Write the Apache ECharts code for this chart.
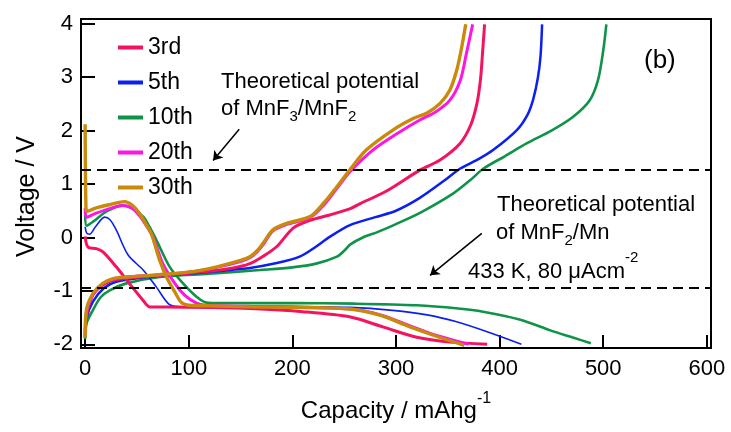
<!DOCTYPE html>
<html>
<head>
<meta charset="utf-8">
<script src="https://cdn.jsdelivr.net/npm/echarts@6/dist/echarts.min.js"></script>
<style>
  html, body { margin: 0; padding: 0; background: #fff; }
  #chart { width: 731px; height: 432px; }
</style>
</head>
<body>
<div id="chart"></div>
<script>
// Capacity (mAh g^-1) vs voltage (V) pairs, discharge and charge per cycle
const cycleNames = ['3rd', '5th', '10th', '20th', '30th'];

const dis3rd = [[0,0.02],[2.7,-0.18],[10.8,-0.21],[17.2,-0.27],[30,-0.55],[42.6,-0.86],[56,-1.18],[62.3,-1.3],[78.5,-1.3],[120,-1.31],[159,-1.33],[210,-1.39],[256,-1.49],[288,-1.68],[320,-1.87],[352,-1.96],[388,-2.0]];
const chg3rd = [[0,-1.86],[1.5,-1.45],[7.5,-1.08],[18,-0.88],[30,-0.79],[60,-0.73],[104,-0.66],[140,-0.58],[159,-0.49],[172,-0.35],[185,-0.17],[201,0.18],[217,0.32],[236,0.42],[256,0.54],[265,0.63],[290,0.86],[323,1.26],[342.5,1.45],[361.8,1.76],[372,2.1],[378,2.5],[381.5,2.95],[383.5,3.45],[385.5,3.99]];

const dis5th = [[0,0.2],[1.5,0.08],[4.3,0.06],[10,0.2],[18.8,0.38],[24,0.33],[30,0.14],[41.5,-0.33],[56,-0.61],[68.8,-0.93],[81.6,-1.26],[94.5,-1.3],[150,-1.28],[200,-1.29],[256,-1.31],[294,-1.36],[330,-1.45],[358.5,-1.58],[390,-1.78],[421,-2.0]];
const chg5th = [[0,-1.88],[1.5,-1.5],[7.5,-1.2],[18,-0.95],[30,-0.83],[60,-0.74],[104,-0.67],[159,-0.57],[185,-0.48],[207,-0.36],[223,-0.17],[236,0.01],[255.6,0.23],[280,0.38],[300,0.5],[323,0.74],[347,1.07],[362,1.29],[380,1.47],[394,1.64],[416.6,2.01],[427,2.3],[432.6,2.6],[437,3.0],[439.5,3.4],[441,3.99]];

const dis10th = [[0,0.42],[1.5,0.22],[8,0.3],[20,0.48],[36,0.6],[45,0.55],[56,0.39],[62,0.2],[68.8,-0.05],[81.6,-0.55],[94.5,-0.86],[107.5,-1.11],[117,-1.22],[130,-1.23],[200,-1.23],[260,-1.24],[320,-1.27],[360,-1.33],[384,-1.39],[420,-1.54],[449,-1.74],[470,-1.87],[488,-1.98]];
const chg10th = [[0,-1.9],[1.5,-1.6],[7.5,-1.36],[15,-1.12],[23.7,-0.99],[39.8,-0.86],[72,-0.74],[120,-0.68],[168.6,-0.61],[200,-0.56],[223,-0.49],[243,-0.36],[250,-0.25],[256,-0.13],[268,0.0],[282,0.1],[300,0.25],[325,0.48],[355,0.82],[371.5,1.07],[384.5,1.29],[405,1.52],[426,1.76],[450,2.0],[471,2.26],[487,2.57],[495,2.95],[500,3.5],[503,3.99]];

const dis20th = [[0,0.55],[1.5,0.38],[10,0.45],[25,0.55],[36.5,0.6],[45,0.55],[52.7,0.4],[59,0.22],[65.5,0.01],[75,-0.49],[86.5,-0.86],[96,-1.08],[107.5,-1.23],[116,-1.27],[159,-1.29],[210,-1.31],[256,-1.34],[285,-1.45],[313,-1.65],[340,-1.84],[370,-2.0]];
const chg20th = [[0,-1.88],[1.2,-1.4],[7.5,-1.07],[17,-0.87],[27,-0.78],[40,-0.74],[70,-0.7],[104,-0.64],[127,-0.56],[150,-0.45],[159,-0.38],[166,-0.27],[172,-0.13],[181,0.12],[194,0.24],[217,0.37],[230,0.6],[243,0.92],[256,1.24],[278,1.64],[304,1.98],[323,2.2],[339,2.36],[352,2.57],[362,2.94],[368,3.45],[374,3.99]];

const dis30th = [[0,2.12],[0.8,0.55],[2,0.49],[10,0.55],[25,0.62],[38,0.67],[45,0.61],[52,0.46],[58,0.27],[64,0.06],[72,-0.43],[78.5,-0.74],[86.5,-1.02],[93,-1.22],[100,-1.27],[117,-1.28],[159,-1.3],[210,-1.31],[256,-1.34],[285,-1.46],[313,-1.67],[339,-1.85],[366,-2.02]];
const chg30th = [[0,-1.88],[1.2,-1.36],[7.5,-1.05],[17,-0.86],[27,-0.77],[40,-0.74],[70,-0.7],[104,-0.64],[127,-0.55],[150,-0.43],[159,-0.36],[166,-0.25],[172,-0.1],[181,0.14],[194,0.26],[217,0.39],[230,0.64],[243,0.95],[256,1.28],[271.5,1.64],[297,2.01],[317,2.23],[330,2.33],[342.5,2.51],[352,2.76],[358.7,3.14],[363.5,3.57],[367.3,3.99]];

// Theoretical potentials (V): MnF3/MnF2 and MnF2/Mn
const refPotentials = [1.27, -0.94];

const xTicks = [0, 100, 200, 300, 400, 500, 600];
const yTicks = [-2, -1, 0, 1, 2, 3, 4];

const FONT = '"Liberation Sans", Arial, sans-serif';
const colors = { '3rd': '#f4145c', '5th': '#0b1ff2', '10th': '#0f9348', '20th': '#ff14e6', '30th': '#c98a0c' };
const widths = { '3rd': 3, '5th': 2.5, '10th': 2.6, '20th': 3, '30th': 3.4 };

function curve(name, data, width) {
  return {
    name: name,
    type: 'line',
    data: data,
    showSymbol: false,
    symbol: 'none',
    smooth: 0.3,
    color: colors[name],
    lineStyle: { color: colors[name], width: width || widths[name] },
    emphasis: { disabled: true },
    silent: true
  };
}

const series = [
  curve('10th', dis10th), curve('10th', chg10th),
  curve('5th', dis5th, 1.6), curve('5th', chg5th),
  curve('3rd', dis3rd), curve('3rd', chg3rd),
  curve('20th', dis20th), curve('20th', chg20th),
  curve('30th', dis30th), curve('30th', chg30th),
  {
    name: 'ref',
    type: 'line',
    data: [],
    silent: true,
    markLine: {
      silent: true,
      symbol: ['none', 'none'],
      label: { show: false },
      lineStyle: { color: '#000', width: 2, type: [10, 6] },
      data: refPotentials.map(v => ({ yAxis: v }))
    }
  },
  {
    name: 'arrows',
    type: 'line',
    data: [],
    silent: true,
    markLine: {
      silent: true,
      symbol: ['none', 'arrow'],
      symbolSize: 9,
      label: { show: false },
      lineStyle: { color: '#000', width: 1.5, type: 'solid' },
      data: [
        [{ coord: [148.7, 2.025] }, { coord: [123.5, 1.44] }],
        [{ coord: [382.8, 0.075] }, { coord: [332.9, -0.71] }]
      ]
    }
  }
];

function txt(x, baseline, text, size, rich, lh) {
  const s = size || 22;
  return {
    type: 'text',
    x: x,
    y: baseline - 0.3 * s,
    silent: true,
    style: {
      text: text,
      fontSize: s,
      fontFamily: FONT,
      fill: '#000',
      align: 'left',
      verticalAlign: 'middle',
      lineHeight: lh || s,
      rich: rich || {}
    }
  };
}

const subRich = { sub: { fontSize: 15, fontFamily: FONT, fill: '#000', lineHeight: 15, verticalAlign: 'bottom' } };
const supRich = { sup: { fontSize: 15, fontFamily: FONT, fill: '#000', lineHeight: 15, verticalAlign: 'top' } };

const chart = echarts.init(document.getElementById('chart'), null, { renderer: 'canvas' });
chart.setOption({
  animation: false,
  backgroundColor: '#fff',
  textStyle: { fontFamily: FONT },
  grid: {
    left: 81, right: 20, top: 19, bottom: 84,
    outerBoundsMode: 'none',
    show: true, borderColor: '#000', borderWidth: 2, backgroundColor: 'transparent'
  },
  legend: {
    data: cycleNames,
    orient: 'vertical',
    left: 118,
    top: 36,
    padding: 0,
    itemWidth: 25,
    itemHeight: 4,
    itemGap: 12,
    icon: 'rect',
    selectedMode: false,
    textStyle: { fontSize: 23, fontFamily: FONT, color: '#000', lineHeight: 23 }
  },
  xAxis: {
    type: 'value',
    min: -4,
    max: 604,
    name: 'Capacity / mAhg{sup|-1}',
    nameLocation: 'middle',
    nameGap: 43,
    nameTextStyle: {
      fontSize: 24, fontFamily: FONT, color: '#000', lineHeight: 40,
      rich: { sup: { fontSize: 16, fontFamily: FONT, color: '#000', lineHeight: 16, verticalAlign: 'top' } }
    },
    axisLine: { show: true, onZero: false, lineStyle: { color: '#000', width: 2 } },
    axisTick: { show: true, inside: true, length: 13, customValues: xTicks, lineStyle: { color: '#000', width: 2 } },
    axisLabel: { customValues: xTicks, margin: 10, fontSize: 22, fontFamily: FONT, color: '#000' },
    splitLine: { show: false }
  },
  yAxis: {
    type: 'value',
    min: -2.07,
    max: 4.09,
    name: 'Voltage / V',
    nameLocation: 'middle',
    nameRotate: 90,
    nameGap: 41,
    nameTextStyle: { fontSize: 25, fontFamily: FONT, color: '#000', padding: [0, 26, 0, 0] },
    axisLine: { show: true, onZero: false, lineStyle: { color: '#000', width: 2 } },
    axisTick: { show: true, inside: true, length: 14, customValues: yTicks, lineStyle: { color: '#000', width: 2 } },
    axisLabel: { customValues: yTicks, margin: 8, fontSize: 22, fontFamily: FONT, color: '#000' },
    splitLine: { show: false }
  },
  series: series,
  graphic: [
    txt(221, 89, 'Theoretical potential'),
    txt(221, 116, 'of MnF{sub|3}/MnF{sub|2}', 22, subRich, 29),
    txt(497, 212, 'Theoretical potential'),
    txt(496, 240, 'of MnF{sub|2}/Mn', 22, subRich, 29),
    txt(468, 279, '433 K, 80 μAcm{sup|-2}', 22, supRich, 44),
    txt(644, 69, '(b)', 26)
  ]
});
</script>
</body>
</html>
